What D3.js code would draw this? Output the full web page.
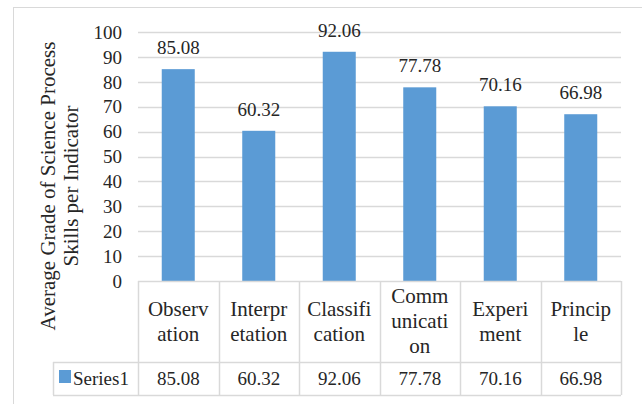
<!DOCTYPE html>
<html>
<head>
<meta charset="utf-8">
<script src="https://cdn.jsdelivr.net/npm/d3@7"></script>
<style>
  body { margin: 0; background: #fff; }
  text { font-family: "Liberation Serif", "DejaVu Serif", serif; fill: #262626; }
</style>
</head>
<body>
<div id="chart"></div>
<script>
var categories = ['Observation', 'Interpretation', 'Classification', 'Communication', 'Experiment', 'Principle'];
var categoryLines = [['Observ', 'ation'], ['Interpr', 'etation'], ['Classifi', 'cation'],
    ['Comm', 'unicati', 'on'], ['Experi', 'ment'], ['Princip', 'le']];
var series1 = [85.08, 60.32, 92.06, 77.78, 70.16, 66.98];
var valueLabels = ['85.08', '60.32', '92.06', '77.78', '70.16', '66.98'];
var yTicks = [0, 10, 20, 30, 40, 50, 60, 70, 80, 90, 100];
var seriesName = 'Series1';
var yTitle = ['Average Grade of Science Process', 'Skills per Indicator'];

var W = 642, H = 404;
var margin = { top: 32, left: 138, right: 21, bottom: 123 };
var plotW = W - margin.left - margin.right,
    plotH = H - margin.top - margin.bottom;
var catRowH = 81, serRowH = 33, legendLeft = 53;
var gridColor = '#d9d9d9', barColor = '#5b9bd5';
var fs = '19px';

var svg = d3.select('#chart').append('svg')
    .attr('width', W)
    .attr('height', H);

// outer chart border
svg.append('rect')
    .attr('x', 13.5).attr('y', 7.5)
    .attr('width', W).attr('height', H)
    .attr('fill', 'none')
    .attr('stroke', gridColor);

var x = d3.scaleBand()
    .domain(categories)
    .range([0, plotW])
    .paddingInner(0.59)
    .paddingOuter(0.295);

var cols = d3.scaleBand()
    .domain(categories)
    .range([0, plotW]);

var y = d3.scaleLinear()
    .domain([0, 100])
    .range([plotH, 0]);

var g = svg.append('g')
    .attr('transform', 'translate(' + margin.left + ',' + margin.top + ')');

// gridlines
g.selectAll('line.grid').data(yTicks.filter(function (d) { return d > 0; }))
    .enter().append('line')
    .attr('class', 'grid')
    .attr('x1', 0).attr('x2', plotW)
    .attr('y1', function (d) { return Math.round(y(d)) + 0.5; })
    .attr('y2', function (d) { return Math.round(y(d)) + 0.5; })
    .attr('stroke', gridColor)
    .attr('stroke-width', 1.5);

// y axis labels
var yAxis = d3.axisLeft(y).tickValues(yTicks).tickSize(0).tickPadding(0);
var yAxisG = g.append('g').call(yAxis);
yAxisG.select('.domain').remove();
yAxisG.selectAll('text')
    .attr('x', -16)
    .style('font-size', fs)
    .style('fill', '#262626')
    .attr('dy', '0.33em');

// bars
g.selectAll('rect.bar').data(series1)
    .enter().append('rect')
    .attr('class', 'bar')
    .attr('x', function (d, i) { return x(categories[i]); })
    .attr('width', x.bandwidth())
    .attr('y', function (d) { return y(d); })
    .attr('height', function (d) { return plotH - y(d); })
    .attr('fill', barColor);

// data labels
g.selectAll('text.val').data(series1)
    .enter().append('text')
    .attr('class', 'val')
    .attr('x', function (d, i) { return cols(categories[i]) + cols.bandwidth() / 2; })
    .attr('y', function (d) { return y(d) - 15; })
    .attr('text-anchor', 'middle')
    .style('font-size', fs)
    .text(function (d, i) { return valueLabels[i]; });

// data table
var table = g.append('g').attr('transform', 'translate(0,' + plotH + ')');
var tColor = '#d9d9d9';

table.append('line')
    .attr('x1', 0).attr('x2', plotW).attr('y1', 0.5).attr('y2', 0.5)
    .attr('stroke', tColor).attr('stroke-width', 1.5);
table.append('line')
    .attr('x1', legendLeft - margin.left).attr('x2', plotW)
    .attr('y1', catRowH + 0.5).attr('y2', catRowH + 0.5)
    .attr('stroke', tColor).attr('stroke-width', 1.5);
table.append('line')
    .attr('x1', legendLeft - margin.left).attr('x2', plotW)
    .attr('y1', catRowH + serRowH + 0.5).attr('y2', catRowH + serRowH + 0.5)
    .attr('stroke', tColor).attr('stroke-width', 1.5);
table.append('line')
    .attr('x1', legendLeft - margin.left + 0.5).attr('x2', legendLeft - margin.left + 0.5)
    .attr('y1', catRowH).attr('y2', catRowH + serRowH)
    .attr('stroke', tColor).attr('stroke-width', 1.5);

var colEdges = categories.map(function (c) { return cols(c); }).concat([plotW]);
table.selectAll('line.col').data(colEdges)
    .enter().append('line')
    .attr('class', 'col')
    .attr('x1', function (d) { return Math.round(d) + 0.5; })
    .attr('x2', function (d) { return Math.round(d) + 0.5; })
    .attr('y1', 0).attr('y2', catRowH + serRowH)
    .attr('stroke', tColor).attr('stroke-width', 1.5);

// category labels
var lineH = 25;
categoryLines.forEach(function (lines, i) {
    var cx = cols(categories[i]) + cols.bandwidth() / 2;
    var top = catRowH / 2 - (lines.length - 1) * lineH / 2;
    var t = table.append('text')
        .attr('text-anchor', 'middle')
        .style('font-size', '21px');
    lines.forEach(function (s, j) {
        t.append('tspan')
            .attr('x', cx)
            .attr('y', top + j * lineH)
            .attr('dy', '0.33em')
            .text(s);
    });
});

// series row values
table.selectAll('text.cell').data(series1)
    .enter().append('text')
    .attr('class', 'cell')
    .attr('x', function (d, i) { return cols(categories[i]) + cols.bandwidth() / 2; })
    .attr('y', catRowH + serRowH / 2)
    .attr('dy', '0.33em')
    .attr('text-anchor', 'middle')
    .style('font-size', fs)
    .text(function (d, i) { return valueLabels[i]; });

// legend key
table.append('rect')
    .attr('x', legendLeft - margin.left + 6)
    .attr('y', catRowH + 8)
    .attr('width', 12).attr('height', 13)
    .attr('fill', barColor);
table.append('text')
    .attr('x', legendLeft - margin.left + 20)
    .attr('y', catRowH + serRowH / 2)
    .attr('dy', '0.33em')
    .style('font-size', fs)
    .text(seriesName);

// y axis title
var title = svg.append('text')
    .attr('transform', 'translate(48,' + 186 + ') rotate(-90)')
    .attr('text-anchor', 'middle')
    .style('font-size', '21px');
yTitle.forEach(function (s, j) {
    title.append('tspan')
        .attr('x', 0)
        .attr('y', j * 23)
        .attr('dy', '0.33em')
        .text(s);
});
</script>
</body>
</html>
